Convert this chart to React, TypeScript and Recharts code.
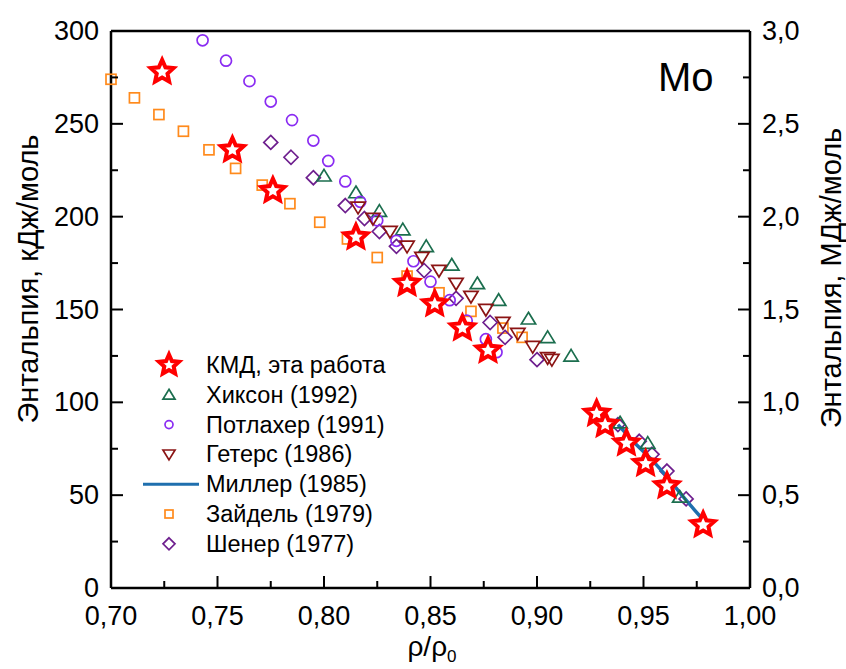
import { ScatterChart, Scatter, XAxis, YAxis, Legend, Label } from "recharts";

const FONT = "'Liberation Sans', Arial, Helvetica, sans-serif";

// ρ/ρ0 and enthalpy, kJ/mol
const kmdRho = [0.724, 0.757, 0.776, 0.815, 0.839, 0.852, 0.865, 0.877, 0.928, 0.932, 0.942, 0.951, 0.961, 0.978];
const kmdH = [278, 236, 214, 189, 164, 153, 140, 128, 94, 88, 78, 67, 55, 34];

const hixsonRho = [0.8, 0.815, 0.826, 0.837, 0.848, 0.86, 0.872, 0.882, 0.896, 0.905, 0.916, 0.939, 0.952, 0.967];
const hixsonH = [222, 213, 203, 193, 184, 174, 164, 155, 145, 135, 125, 89, 78, 49];

const potlacherRho = [0.743, 0.754, 0.765, 0.775, 0.785, 0.795, 0.802, 0.81, 0.817, 0.825, 0.834, 0.842, 0.85, 0.859, 0.867, 0.876, 0.881];
const potlacherH = [295, 284, 273, 262, 252, 241, 230, 219, 208, 198, 187, 176, 165, 155, 144, 134, 127];

const getersRho = [0.816, 0.823, 0.831, 0.839, 0.846, 0.854, 0.862, 0.869, 0.876, 0.884, 0.891, 0.898, 0.905, 0.907];
const getersH = [205, 199, 192, 184, 178, 171, 164, 157, 150, 143, 137, 130, 124, 123];

const millerRho = [0.938, 0.946, 0.954, 0.961, 0.968, 0.974, 0.977];
const millerH = [88, 78, 69, 60, 50, 42, 38];

const seidelRho = [0.7, 0.711, 0.7225, 0.734, 0.746, 0.7585, 0.771, 0.784, 0.798, 0.811, 0.825, 0.839, 0.854, 0.869, 0.884, 0.893];
const seidelH = [274, 264, 255, 246, 236, 226, 217, 207, 197, 188, 178, 168, 159, 149, 140, 135];

const schonerRho = [0.775, 0.7845, 0.795, 0.81, 0.819, 0.826, 0.834, 0.847, 0.862, 0.878, 0.885, 0.9, 0.938, 0.948, 0.954, 0.961, 0.97];
const schonerH = [240, 232, 221, 206, 199, 192, 184, 171, 156, 143, 135, 123, 88, 79, 72, 63, 48];

const xTicks = [0.7, 0.725, 0.75, 0.775, 0.8, 0.825, 0.85, 0.875, 0.9, 0.925, 0.95, 0.975, 1.0];
const leftTicks = [0, 25, 50, 75, 100, 125, 150, 175, 200, 225, 250, 275, 300];
const rightTicks = [0, 0.25, 0.5, 0.75, 1, 1.25, 1.5, 1.75, 2, 2.25, 2.5, 2.75, 3];

const zip = (xs: number[], ys: number[]) => xs.map((x, i) => ({ x, y: ys[i] }));

const C = {
  kmd: "#ff0000",
  hixson: "#1b6e4e",
  potlacher: "#8a2cf2",
  geters: "#8b1414",
  miller: "#1f6fae",
  seidel: "#ff8a1c",
  schoner: "#6e1f8e",
};

const isMajor = (v: number, step: number) => Math.abs(v / step - Math.round(v / step)) < 1e-6;

// ---- marker shapes ----
const star = (cx: number, cy: number, R: number, color: string) => {
  const pts = Array.from({ length: 10 }, (_, i) => {
    const a = -Math.PI / 2 + (i * Math.PI) / 5;
    const rad = i % 2 === 0 ? R : R * 0.47;
    return `${cx + rad * Math.cos(a)},${cy + rad * Math.sin(a)}`;
  }).join(" ");
  return <polygon points={pts} fill="#fff" stroke={color} strokeWidth={4} strokeLinejoin="miter" />;
};
const triUp = (cx: number, cy: number, s: number, color: string) => (
  <polygon points={`${cx},${cy - s} ${cx + s * 1.1},${cy + s * 0.8} ${cx - s * 1.1},${cy + s * 0.8}`} fill="none" stroke={color} strokeWidth={1.7} />
);
const triDown = (cx: number, cy: number, s: number, color: string) => (
  <polygon points={`${cx},${cy + s} ${cx + s * 1.1},${cy - s * 0.8} ${cx - s * 1.1},${cy - s * 0.8}`} fill="none" stroke={color} strokeWidth={1.7} />
);
const circ = (cx: number, cy: number, r: number, color: string) => (
  <circle cx={cx} cy={cy} r={r} fill="none" stroke={color} strokeWidth={1.7} />
);
const square = (cx: number, cy: number, s: number, color: string) => (
  <rect x={cx - s} y={cy - s} width={2 * s} height={2 * s} fill="none" stroke={color} strokeWidth={1.7} />
);
const diamond = (cx: number, cy: number, s: number, color: string) => (
  <polygon points={`${cx},${cy - s} ${cx + s},${cy} ${cx},${cy + s} ${cx - s},${cy}`} fill="none" stroke={color} strokeWidth={1.7} />
);

const legendItems = [
  { name: "КМД, эта работа", draw: (x: number, y: number) => star(x, y, 10.5, C.kmd) },
  { name: "Хиксон (1992)", draw: (x: number, y: number) => triUp(x, y, 5.5, C.hixson) },
  { name: "Потлахер (1991)", draw: (x: number, y: number) => circ(x, y, 4, C.potlacher) },
  { name: "Гетерс (1986)", draw: (x: number, y: number) => triDown(x, y, 5.5, C.geters) },
  { name: "Миллер (1985)", draw: (x: number, y: number) => <line x1={x - 26} x2={x + 30} y1={y} y2={y} stroke={C.miller} strokeWidth={3} /> },
  { name: "Зайдель (1979)", draw: (x: number, y: number) => square(x, y, 4, C.seidel) },
  { name: "Шенер (1977)", draw: (x: number, y: number) => diamond(x, y, 6, C.schoner) },
];

const LegendBox = () => (
  <svg width={280} height={215} style={{ display: "block" }}>
    {legendItems.map((it, i) => {
      const y = 16 + i * 29.8;
      return (
        <g key={it.name}>
          {it.draw(39, y)}
          <text x={76} y={y} dominantBaseline="central" fontFamily={FONT} fontSize={23.5} fill="#000">
            {it.name}
          </text>
        </g>
      );
    })}
  </svg>
);

// ---- ticks (inward, major + minor) ----
const BottomTick = (p: any) => {
  const v = p.payload.value;
  const major = isMajor(v, 0.05);
  return (
    <g>
      <line x1={p.x} x2={p.x} y1={p.y} y2={p.y - (major ? 12 : 7)} stroke="#000" strokeWidth={2} />
      {major && (
        <text x={p.x} y={p.y + 37} textAnchor="middle" fontFamily={FONT} fontSize={27} fill="#000">
          {v.toFixed(2).replace(".", ",")}
        </text>
      )}
    </g>
  );
};
const TopTick = (p: any) => {
  const major = isMajor(p.payload.value, 0.05);
  return <line x1={p.x} x2={p.x} y1={p.y} y2={p.y + (major ? 12 : 7)} stroke="#000" strokeWidth={2} />;
};
const LeftTick = (p: any) => {
  const v = p.payload.value;
  const major = isMajor(v, 50);
  return (
    <g>
      <line x1={p.x} x2={p.x + (major ? 12 : 7)} y1={p.y} y2={p.y} stroke="#000" strokeWidth={2} />
      {major && (
        <text x={p.x - 12} y={p.y} textAnchor="end" dominantBaseline="central" fontFamily={FONT} fontSize={27} fill="#000">
          {v}
        </text>
      )}
    </g>
  );
};
const RightTick = (p: any) => {
  const v = p.payload.value;
  const major = isMajor(v, 0.5);
  return (
    <g>
      <line x1={p.x} x2={p.x - (major ? 12 : 7)} y1={p.y} y2={p.y} stroke="#000" strokeWidth={2} />
      {major && (
        <text x={p.x + 12} y={p.y} textAnchor="start" dominantBaseline="central" fontFamily={FONT} fontSize={27} fill="#000">
          {v.toFixed(1).replace(".", ",")}
        </text>
      )}
    </g>
  );
};

const axisLine = { stroke: "#000", strokeWidth: 2.5 };

export default function App() {
  return (
    <div style={{ position: "absolute", left: 0, top: 0, background: "#fff" }}>
      <ScatterChart width={846} height={669} margin={{ top: 0, right: 0, bottom: 0, left: 0 }}>
        <XAxis
          xAxisId="b"
          type="number"
          dataKey="x"
          domain={[0.7, 1.0]}
          ticks={xTicks}
          interval={0}
          orientation="bottom"
          height={81}
          tickSize={0}
          tickMargin={0}
          tickLine={false}
          axisLine={axisLine}
          tick={<BottomTick />}
        >
          <Label
            content={() => (
              <text x={432} y={656} textAnchor="middle" fontFamily={FONT} fontSize={28} fill="#000">
                ρ/ρ<tspan fontSize={17} dy={6}>0</tspan>
              </text>
            )}
          />
        </XAxis>
        <XAxis
          xAxisId="t"
          type="number"
          dataKey="x"
          domain={[0.7, 1.0]}
          ticks={xTicks}
          interval={0}
          orientation="top"
          height={31}
          tickSize={0}
          tickMargin={0}
          tickLine={false}
          axisLine={axisLine}
          tick={<TopTick />}
        >
          <Label
            content={() => (
              <text x={658} y={91} fontFamily={FONT} fontSize={40} fill="#000">
                Mo
              </text>
            )}
          />
        </XAxis>
        <YAxis
          yAxisId="l"
          type="number"
          dataKey="y"
          domain={[0, 300]}
          ticks={leftTicks}
          interval={0}
          orientation="left"
          width={111}
          tickSize={0}
          tickMargin={0}
          tickLine={false}
          axisLine={axisLine}
          tick={<LeftTick />}
        >
          <Label
            content={() => (
              <text
                x={28}
                y={279}
                transform="rotate(-90 28 279)"
                textAnchor="middle"
                dominantBaseline="central"
                fontFamily={FONT}
                fontSize={29}
                fill="#000"
              >
                Энтальпия, кДж/моль
              </text>
            )}
          />
        </YAxis>
        <YAxis
          yAxisId="r"
          type="number"
          dataKey="y"
          domain={[0, 3]}
          allowDataOverflow
          ticks={rightTicks}
          interval={0}
          orientation="right"
          width={96}
          tickSize={0}
          tickMargin={0}
          tickLine={false}
          axisLine={axisLine}
          tick={<RightTick />}
        >
          <Label
            content={() => (
              <text
                x={831}
                y={278}
                transform="rotate(-90 831 278)"
                textAnchor="middle"
                dominantBaseline="central"
                fontFamily={FONT}
                fontSize={29}
                fill="#000"
              >
                Энтальпия, МДж/моль
              </text>
            )}
          />
        </YAxis>

        {/* empty series so the mirrored top/right axes get a scale */}
        <Scatter xAxisId="t" yAxisId="r" data={[]} isAnimationActive={false} legendType="none" />

        <Scatter
          xAxisId="b"
          yAxisId="l"
          name="Зайдель (1979)"
          data={zip(seidelRho, seidelH)}
          isAnimationActive={false}
          shape={(p: any) => square(p.cx, p.cy, 5, C.seidel)}
        />
        <Scatter
          xAxisId="b"
          yAxisId="l"
          name="Шенер (1977)"
          data={zip(schonerRho, schonerH)}
          isAnimationActive={false}
          shape={(p: any) => diamond(p.cx, p.cy, 7, C.schoner)}
        />
        <Scatter
          xAxisId="b"
          yAxisId="l"
          name="Миллер (1985)"
          data={zip(millerRho, millerH)}
          isAnimationActive={false}
          line={{ stroke: C.miller, strokeWidth: 3.5 }}
          lineType="joint"
          shape={() => <g />}
        />
        <Scatter
          xAxisId="b"
          yAxisId="l"
          name="Хиксон (1992)"
          data={zip(hixsonRho, hixsonH)}
          isAnimationActive={false}
          shape={(p: any) => triUp(p.cx, p.cy, 6.5, C.hixson)}
        />
        <Scatter
          xAxisId="b"
          yAxisId="l"
          name="Потлахер (1991)"
          data={zip(potlacherRho, potlacherH)}
          isAnimationActive={false}
          shape={(p: any) => circ(p.cx, p.cy, 5.5, C.potlacher)}
        />
        <Scatter
          xAxisId="b"
          yAxisId="l"
          name="Гетерс (1986)"
          data={zip(getersRho, getersH)}
          isAnimationActive={false}
          shape={(p: any) => triDown(p.cx, p.cy, 6.5, C.geters)}
        />
        <Scatter
          xAxisId="b"
          yAxisId="l"
          name="КМД, эта работа"
          data={zip(kmdRho, kmdH)}
          isAnimationActive={false}
          shape={(p: any) => star(p.cx, p.cy, 12, C.kmd)}
        />

        <Legend
          layout="vertical"
          align="center"
          verticalAlign="middle"
          content={() => <LegendBox />}
          wrapperStyle={{ left: 130, top: 349, width: 280, height: 215 }}
        />
      </ScatterChart>
    </div>
  );
}
